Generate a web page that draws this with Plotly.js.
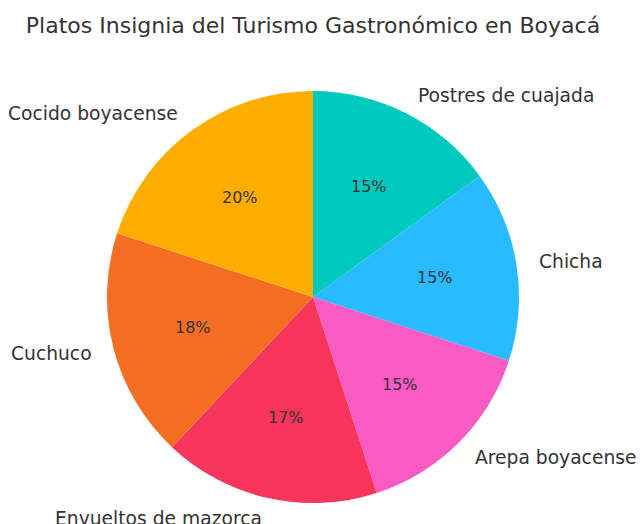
<!DOCTYPE html>
<html>
<head>
<meta charset="utf-8">
<script src="https://cdn.plot.ly/plotly-3.0.1.min.js"></script>
<style>html,body{margin:0;padding:0;background:#fff;}#chart{width:641px;height:524px;}</style>
</head>
<body>
<div id="chart"></div>
<script>
const labels = ["Postres de cuajada", "Chicha", "Arepa boyacense", "Envueltos de mazorca", "Cuchuco", "Cocido boyacense"];
const values = [15, 15, 15, 17, 18, 20];
const colors = ["#00C9BF", "#29BBFF", "#F95BC4", "#F7345A", "#F36E22", "#FFAD00"];
const titleText = "Platos Insignia del Turismo Gastronómico en Boyacá";

const total = values.reduce((a, b) => a + b, 0);
const annotations = [];
let cum = 0;
values.forEach((v, i) => {
  const mid = (cum + v / 2) / total * 2 * Math.PI; // clockwise from top
  cum += v;
  const sx = Math.sin(mid), cy = Math.cos(mid);
  const lx = 1.1 * sx, ly = 1.1 * cy;
  annotations.push({
    text: labels[i], xref: "paper", yref: "paper",
    x: 0.5 + lx * 0.5, y: 0.5 + ly * 0.5,
    xanchor: lx > 0 ? "left" : "right", yanchor: "middle",
    showarrow: false, font: {family: "DejaVu Sans", size: 18.7, color: "#333333"}
  });
  const px = 0.6 * sx, py = 0.6 * cy;
  annotations.push({
    text: Math.round(v / total * 100) + "%", xref: "paper", yref: "paper",
    x: 0.5 + px * 0.5, y: 0.5 + py * 0.5,
    xanchor: "center", yanchor: "middle",
    showarrow: false, font: {family: "DejaVu Sans", size: 16, color: "#333333"}
  });
});

const data = [{
  type: "pie",
  labels: labels,
  values: values,
  sort: false,
  direction: "clockwise",
  rotation: 0,
  textinfo: "none",
  hoverinfo: "label+percent",
  marker: {colors: colors, line: {width: 0}},
  showlegend: false,
  automargin: false
}];

const layout = {
  width: 641, height: 524,
  margin: {l: 107, r: 122, t: 91, b: 21, pad: 0},
  paper_bgcolor: "#ffffff", plot_bgcolor: "#ffffff",
  showlegend: false,
  title: {
    text: titleText, xref: "container", x: 313 / 641, xanchor: "center",
    yref: "container", y: 1 - 25 / 524, yanchor: "middle",
    font: {family: "DejaVu Sans", size: 22, color: "#333333"}
  },
  annotations: annotations
};

Plotly.newPlot("chart", data, layout, {displayModeBar: false, staticPlot: true});
</script>
</body>
</html>
